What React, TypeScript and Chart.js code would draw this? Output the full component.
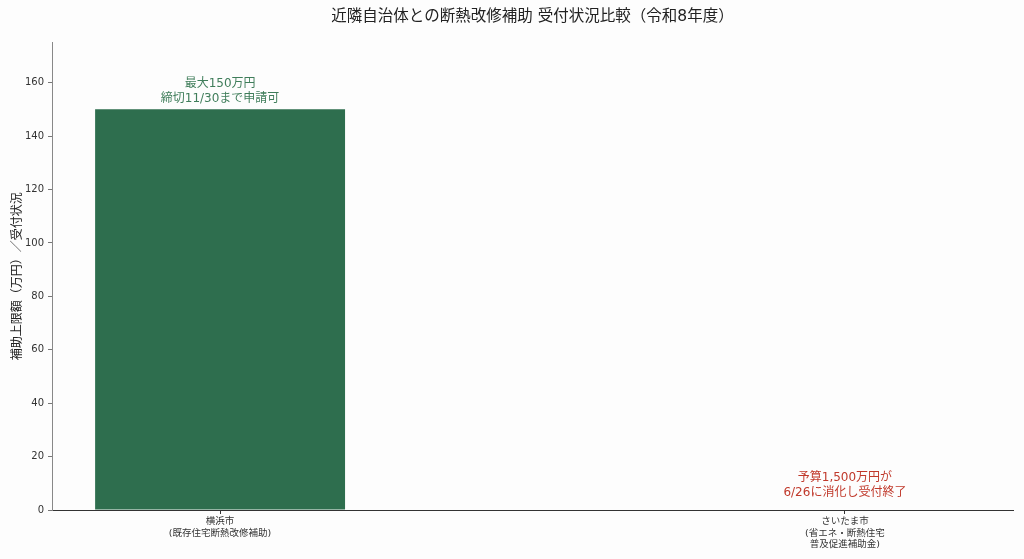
import React, { useEffect, useRef } from "react";
import { Chart, registerables } from "chart.js";

Chart.register(...registerables);

const categories: string[][] = [
  ["横浜市", "(既存住宅断熱改修補助)"],
  ["さいたま市", "(省エネ・断熱住宅", "普及促進補助金)"],
];
const categoryPositions = [0, 1];
const subsidyValues = [150, 0];
const yTickValues = [0, 20, 40, 60, 80, 100, 120, 140, 160];
const annotationTexts: string[][] = [
  ["最大150万円", "締切11/30まで申請可"],
  ["予算1,500万円が", "6/26に消化し受付終了"],
];
const annotationAnchorValues = [151.5, 4];
const annotationColors = ["#3f7d5a", "#c0392b"];
const barColor = "#2e6e4e";

const FONT = "'DejaVu Sans', 'Noto Sans CJK JP', sans-serif";

const annotationPlugin = {
  id: "barAnnotations",
  afterDatasetsDraw(chart: any) {
    const { ctx, scales } = chart;
    const xs = scales.x;
    const ys = scales.y;
    ctx.save();
    ctx.font = `12px ${FONT}`;
    ctx.textAlign = "center";
    ctx.textBaseline = "bottom";
    annotationTexts.forEach((lines, i) => {
      const x = xs.getPixelForValue(categoryPositions[i]);
      const yBase = ys.getPixelForValue(annotationAnchorValues[i]);
      ctx.fillStyle = annotationColors[i];
      const lh = 15;
      for (let k = lines.length - 1, j = 0; k >= 0; k--, j++) {
        ctx.fillText(lines[k], x, yBase - j * lh);
      }
    });
    ctx.restore();
  },
};

const bgPlugin = {
  id: "bg",
  beforeDraw(chart: any) {
    const { ctx, width, height } = chart;
    ctx.save();
    ctx.fillStyle = "#fdfdfd";
    ctx.fillRect(0, 0, width, height);
    ctx.restore();
  },
};

export default function App() {
  const ref = useRef<HTMLCanvasElement | null>(null);
  useEffect(() => {
    document.body.style.margin = "0";
    const canvas = ref.current!;
    const chart = new Chart(canvas, {
      type: "bar",
      data: {
        datasets: [
          {
            data: categoryPositions.map((x, i) => ({ x, y: subsidyValues[i] })),
            backgroundColor: barColor,
            borderWidth: 0,
            categoryPercentage: 0.4,
            barPercentage: 1.0,
          },
        ],
      },
      options: {
        responsive: false,
        animation: false,
        devicePixelRatio: 1,
        layout: { padding: { left: 0, right: 11, top: 0, bottom: 0 } },
        plugins: {
          legend: { display: false },
          tooltip: { enabled: false },
          title: {
            display: true,
            fullSize: false,
            text: "近隣自治体との断熱改修補助 受付状況比較（令和8年度）",
            color: "#222",
            font: { family: FONT, size: 15.5, weight: "normal" },
            padding: { top: 8, bottom: 16 },
          },
        },
        scales: {
          x: {
            type: "linear",
            min: -0.269,
            max: 1.269,
            offset: false,
            afterBuildTicks: (scale: any) => {
              scale.ticks = categoryPositions.map((v) => ({ value: v }));
            },
            afterFit: (scale: any) => {
              scale.height = 49;
            },
            ticks: {
              autoSkip: false,
              maxRotation: 0,
              color: "#333",
              font: { family: FONT, size: 9.5 },
              padding: 2,
              callback: (v: any) => {
                const idx = categoryPositions.indexOf(Number(v));
                return idx >= 0 ? categories[idx] : "";
              },
            },
            grid: {
              offset: false,
              drawOnChartArea: false,
              drawTicks: true,
              tickLength: 4,
              color: "#333",
            },
            border: { display: true, color: "#333", width: 1 },
          },
          y: {
            type: "linear",
            min: 0,
            max: 175,
            afterBuildTicks: (scale: any) => {
              scale.ticks = yTickValues.map((v) => ({ value: v }));
            },
            afterFit: (scale: any) => {
              scale.width = 52;
            },
            ticks: {
              color: "#333",
              font: { family: FONT, size: 10 },
              padding: 4,
            },
            grid: {
              drawOnChartArea: false,
              drawTicks: true,
              tickLength: 4,
              color: "#777",
            },
            border: { display: true, color: "#888", width: 1 },
            title: {
              display: true,
              text: "補助上限額（万円）／受付状況",
              color: "#222",
              font: { family: FONT, size: 12 },
              padding: { top: 11, bottom: 0 },
            },
          },
        },
      },
      plugins: [bgPlugin, annotationPlugin],
    });
    return () => chart.destroy();
  }, []);
  return (
    <div style={{ width: 1024, height: 559 }}>
      <canvas ref={ref} width={1024} height={559} style={{ display: "block" }} />
    </div>
  );
}
